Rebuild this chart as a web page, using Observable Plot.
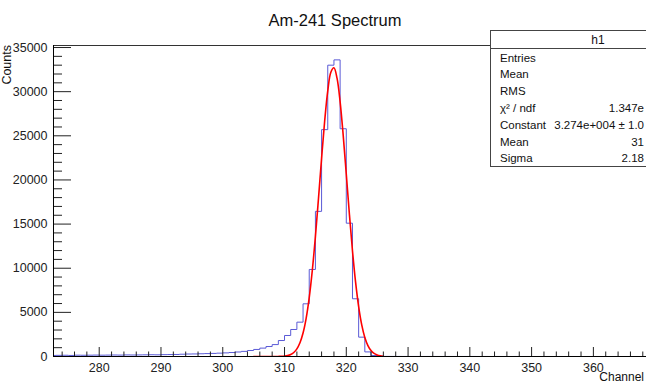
<!DOCTYPE html>
<html><head><meta charset="utf-8">
<script src="https://cdn.jsdelivr.net/npm/d3@7"></script>
<script src="https://cdn.jsdelivr.net/npm/@observablehq/plot@0.6"></script>
<style>
html,body{margin:0;padding:0;background:#fff;overflow:hidden;}
#chart svg{display:block;overflow:hidden;}
</style></head><body><div id="chart"></div>
<script>
const chartTitle = "Am-241 Spectrum";
const xLabel = "Channel";
const yLabel = "Counts";

// histogram: bin lower edges start at firstChannel, width 1
const firstChannel = 272;
const counts = [
  120,130,140,120,150,140,150,160,150,160, // 272-281
  170,160,180,170,180,190,200,190,210,220, // 282-291
  230,260,280,290,310,330,350,380,410,450, // 292-301
  510,580,680,800,950,1130,1350,1810,2380,3060, // 302-311
  3890,5970,9860,16440,25700,33000,33600,25800,15100,6540, // 312-321
  2190,520,110,30,10,8,6,5,4,5, // 322-331
  3,4,3,2,3,2,2,3,2,1, // 332-341
  2,1,2,1,1,2,1,1,0,1, // 342-351
  1,0,1,0,1,0,0,1,0,0, // 352-361
  0,1,0,0,0,0 // 362-367
];

// gaussian fit curve
const fitX = [305,305.5,306,306.5,307,307.5,308,308.5,309,309.5,310,310.5,311,311.5,312,312.5,313,313.5,314,314.5,315,315.5,316,316.5,317,317.5,318,318.5,319,319.5,320,320.5,321,321.5,322,322.5,323,323.5,324,324.5,325,325.5,326];
const fitY = [0,0,0.01,0.04,0.13,0.4,1.2,3.2,8.3,20,48,107,225,451,859,1551,2658,4322,6672,9773,13587,17925,22446,26673,30082,32197,32706,31528,28850,25049,20643,16144,11983,8444,5645,3582,2157,1232,668,344,168,78,34];

const xMajorTicks = [280,290,300,310,320,330,340,350,360];
const xMinorTicks = d3.range(274, 369, 2).filter(v => v % 10 !== 0);
const yMajorTicks = [0,5000,10000,15000,20000,25000,30000,35000];
const yMinorTicks = d3.range(1000, 35001, 1000).filter(v => v % 5000 !== 0);

// statistics box (values as far as they are visible in the picture)
const statsTitle = "h1";
const statsLabels = ["Entries","Mean","RMS","χ² / ndf","Constant","Mean","Sigma"];
const statsValues = ["","","","1.347e","3.274e+004 ± 1.0","31","2.18"];

const W = 646, H = 384, ML = 53, MT = 45, MB = 28, MR = 0;
const plotW = W - ML - MR, plotH = H - MT - MB;
const xDomain = [272.6, 368.6];
const yDomain = [0, 35230];

const bins = counts.map((c, i) => ({x: firstChannel + i, y: c}));
bins.push({x: firstChannel + counts.length, y: counts[counts.length - 1]});
const fit = fitX.map((x, i) => ({x, y: fitY[i]}));

const font = "'Liberation Sans', Arial, Helvetica, sans-serif";

const plot = Plot.plot({
  width: W, height: H,
  marginLeft: ML, marginRight: MR, marginTop: MT, marginBottom: MB,
  x: {domain: xDomain, label: null},
  y: {domain: yDomain, label: null},
  style: {fontFamily: font, fontSize: "12.5px", color: "#222", background: "#fff", overflow: "hidden"},
  marks: [
    Plot.line(bins, {x: "x", y: "y", curve: "step-after", stroke: "#5a5ad6", strokeWidth: 1, clip: true}),
    Plot.line(fit, {x: "x", y: "y", curve: "catmull-rom", stroke: "#ff0000", strokeWidth: 1.6, clip: true}),
    Plot.tickY(yMajorTicks, {y: d => d, stroke: "#222", insetRight: plotW - 18}),
    Plot.tickY(yMinorTicks, {y: d => d, stroke: "#222", insetRight: plotW - 9}),
    Plot.tickX(xMajorTicks, {x: d => d, stroke: "#222", insetTop: plotH - 9}),
    Plot.tickX(xMinorTicks, {x: d => d, stroke: "#222", insetTop: plotH - 4.5}),
    Plot.ruleY([yDomain[0]], {stroke: "#000"}),
    Plot.ruleY([yDomain[1]], {stroke: "#333"}),
    Plot.ruleX([xDomain[0]], {stroke: "#000"}),
    Plot.axisY(yMajorTicks, {tickSize: 0, tickPadding: 6, tickFormat: d => String(d), fontSize: 12.5, fill: "#222"}),
    Plot.axisX(xMajorTicks, {tickSize: 0, tickPadding: 7, tickFormat: d => String(d), fontSize: 12.5, fill: "#222"})
  ]
});

const svg = d3.select(plot);
svg.append("text").attr("x", 335).attr("y", 26).attr("text-anchor", "middle")
  .style("font-family", font).style("font-size", "16.5px").attr("fill", "#111").text(chartTitle);
svg.append("text").attr("transform", "translate(11,45) rotate(-90)").attr("text-anchor", "end")
  .style("font-family", font).style("font-size", "12.5px").attr("fill", "#111").text(yLabel);
svg.append("text").attr("x", 644).attr("y", 381).attr("text-anchor", "end")
  .style("font-family", font).style("font-size", "12px").attr("fill", "#111").text(xLabel);

// statistics box
const box = svg.append("g").style("font-family", font).style("font-size", "11.5px").attr("fill", "#111");
const bx = 490.5, by = 30.5, bw = 216, rowH = 16.8;
box.append("rect").attr("x", bx).attr("y", by).attr("width", bw).attr("height", 136)
  .attr("fill", "#fff").attr("stroke", "#444");
box.append("line").attr("x1", bx).attr("x2", bx + bw).attr("y1", 48.5).attr("y2", 48.5).attr("stroke", "#444");
box.append("text").attr("x", 598).attr("y", 44).attr("text-anchor", "middle").style("font-size", "12px").text(statsTitle);
statsLabels.forEach((lab, i) => {
  const yy = 61.5 + i * rowH;
  box.append("text").attr("x", 500).attr("y", yy).attr("text-anchor", "start").text(lab);
  if (statsValues[i]) box.append("text").attr("x", 644).attr("y", yy).attr("text-anchor", "end").text(statsValues[i]);
});

document.getElementById("chart").appendChild(plot);
</script>
</body></html>
